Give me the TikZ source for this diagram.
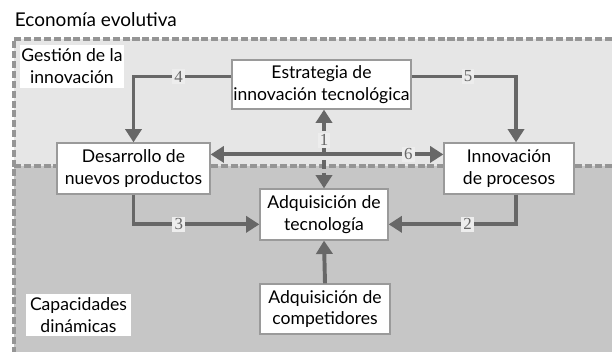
\documentclass[tikz,border=0pt]{standalone}
\usepackage{fontspec}
\setmainfont{Lato}
\newfontfamily\numfont{Liberation Serif}
\usetikzlibrary{arrows.meta}
\definecolor{bgtop}{HTML}{E6E6E6}
\definecolor{bgbottom}{HTML}{C6C6C6}
\definecolor{dashgray}{HTML}{959595}
\definecolor{flowgray}{HTML}{676767}
\definecolor{boxline}{HTML}{9A9A9A}

\begin{document}
\begin{tikzpicture}[x=0.025cm, y=-0.025cm,
  font=\fontsize{12.5}{15.5}\selectfont,
  blockbox/.style={draw=boxline, line width=0.9pt, fill=white, align=center, inner sep=0pt},
  areabox/.style={fill=white, align=center, inner sep=0pt},
  flow/.style={draw=flowgray, line width=2.8pt, -{Triangle[width=11.5pt,length=9.5pt]}},
  twoflow/.style={flow, {Triangle[width=11.5pt,length=9.5pt]}-{Triangle[width=11.5pt,length=9.5pt]}},
  numlab/.style={fill=bgtop!70!white, text=flowgray, inner sep=1.5pt, font=\numfont\fontsize{12}{12}\selectfont},
  border/.style={draw=dashgray, line width=2.2pt, dash pattern=on 5pt off 2pt}]
  \useasboundingbox (0,0) rectangle (612,352);
  % Hintergrund
  \fill[bgtop] (14,39) rectangle (612,166);
  \fill[bgbottom] (14,166) rectangle (612,352);
  \draw[border] (612,39) -- (14,39) -- (14,352);
  \draw[border] (14,166) -- (612,166);
  \node[anchor=west] (title) at (10,20) {\fontsize{13.5}{16}\selectfont Economía evolutiva};
  % Bereiche
  \node[areabox, minimum width=104*0.025cm, minimum height=43*0.025cm] (gest) at (72,66.5) {Gestión de la\\innovación};
  \node[areabox, minimum width=105*0.025cm, minimum height=42*0.025cm] (capa) at (78.5,315) {Capacidades\\dinámicas};
  % Kästen
  \node[blockbox, minimum width=179*0.025cm, minimum height=49*0.025cm] (estr) at (321.5,84.5) {Estrategia de\\innovación tecnológica};
  \node[blockbox, minimum width=153*0.025cm, minimum height=51*0.025cm] (desa) at (133.5,168.5) {Desarrollo de\\nuevos productos};
  \node[blockbox, minimum width=130*0.025cm, minimum height=51*0.025cm] (inno) at (509,168.5) {Innovación\\de procesos};
  \node[blockbox, minimum width=128*0.025cm, minimum height=51*0.025cm] (adqt) at (324,214.5) {Adquisición de\\tecnología};
  \node[blockbox, minimum width=130*0.025cm, minimum height=50*0.025cm] (adqc) at (325,309) {Adquisición de\\competidores};
  % Pfeile
  \draw[flow] ([yshift=5.7pt]estr.west) -| (desa.north) node[pos=0.27, numlab] {4};
  \draw[flow] ([yshift=5.7pt]estr.east) -| ([xshift=5pt]inno.north) node[pos=0.27, numlab] {5};
  \draw[twoflow] ([yshift=10pt]desa.east) -- ([yshift=10pt]inno.west) node[pos=0.85, numlab] {6};
  \draw[twoflow, dash pattern=on 6pt off 3pt] (estr.south -| adqt.north) -- (adqt.north) node[pos=0.39, numlab] {1};
  \draw[flow] (desa.south) |- ([yshift=-7pt]adqt.west) node[pos=0.68, numlab] {3};
  \draw[flow] ([xshift=5pt]inno.south) |- ([yshift=-7pt]adqt.east) node[pos=0.69, numlab] {2};
  \draw[flow] (adqc.north) -- (adqt.south);
\end{tikzpicture}
\end{document}
